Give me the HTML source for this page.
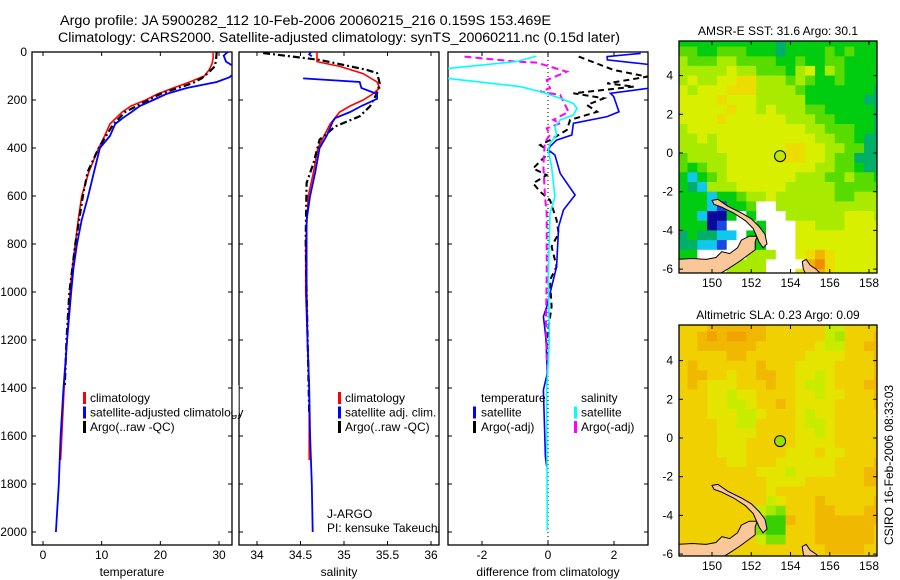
<!DOCTYPE html>
<html><head><meta charset="utf-8">
<style>
html,body{margin:0;padding:0;background:#fff;}
svg{display:block;font-family:"Liberation Sans",sans-serif;}
</style></head>
<body>
<svg id="fig" width="900" height="580" viewBox="0 0 900 580" xmlns="http://www.w3.org/2000/svg">
<defs>
<clipPath id="c1"><rect x="32" y="52" width="200" height="493"/></clipPath>
<clipPath id="c2"><rect x="239" y="52" width="200" height="493"/></clipPath>
<clipPath id="c3"><rect x="448" y="52" width="200" height="493"/></clipPath>
<clipPath id="cm1"><rect x="679" y="41" width="198" height="232"/></clipPath>
<clipPath id="cm2"><rect x="679" y="325" width="198" height="231"/></clipPath>
</defs>
<text x="60" y="25" font-size="13.5" textLength="491" lengthAdjust="spacingAndGlyphs">Argo profile: JA 5900282_112 10-Feb-2006 20060215_216 0.159S 153.469E</text>
<text x="58" y="42" font-size="13.5" textLength="562" lengthAdjust="spacingAndGlyphs">Climatology: CARS2000. Satellite-adjusted climatology: synTS_20060211.nc (0.15d later)</text>
<g id="root"></g>
</svg>
<script>
// ---------- profile data (depth m, value) ----------
const tempClimDepth=[0,25,50,75,100,125,150,175,200,225,250,300,350,400,500,600,700,800,900,1000,1200,1400,1600,1700];
const tempClimVal=[29.0,29.0,28.8,28.3,27.5,25,22.2,19.5,17.5,15,13.5,11.4,10.5,9.5,7.8,6.6,6.0,5.5,5.0,4.6,4.1,3.6,3.2,3.0];
const tempSatDepth=[0,15,40,60,90,105,125,150,175,200,225,250,275,300,350,400,500,600,700,800,900,1000,1200,1400,1600,1800,2000];
const tempSatVal=[31.5,30.8,31.2,32.5,32.5,31.8,29.6,24.5,21,18.8,16.5,15.1,13.6,12.3,11.4,9.7,8.7,7.7,6.6,5.8,5.2,4.8,4.1,3.5,3.0,2.7,2.2];
const tempArgoDepth=[0,30,60,90,110,130,150,175,200,250,300,400,500,600,800,1000,1200,1400];
const tempArgoVal=[29.6,29.5,29.3,28,27,25.5,23,20,18,14,12,9.5,7.6,6.8,5.5,4.5,4.0,3.7];

const salClimDepth=[0,40,60,90,125,150,175,200,225,250,300,400,500,600,800,1000,1400,1700];
const salClimVal=[34.69,34.69,34.95,35.22,35.38,35.41,35.33,35.22,35.07,34.95,34.84,34.70,34.65,34.59,34.56,34.56,34.60,34.60];
const salSatTopDepth=[0,10,18];
const salSatTopVal=[34.62,34.60,34.63];
const salSatDepth=[110,125,150,175,195,225,250,275,290,350,400,500,600,700,800,1000,1200,1400,1600,1800,2000];
const salSatVal=[34.53,35.18,35.20,35.38,35.38,35.20,35.07,34.90,34.87,34.80,34.72,34.67,34.61,34.57,34.57,34.57,34.58,34.60,34.61,34.63,34.64];
const salArgoDepth=[4,33,74,88,130,171,226,268,310,365,463,546,780,1000,1500];
const salArgoVal=[34.07,34.72,35.26,35.38,35.41,35.38,35.30,35.18,34.90,34.72,34.65,34.57,34.56,34.57,34.60];

const dTSatDepth=[6,19,33,54,89,131,151,172,186,249,269,297,346,367,394,408,429,506,596,658,728,894,950,1006,1061,1103,1158,1200,1339,1408,1686,1728];
const dTSatVal=[2.81,1.79,1.8,3.2,3.6,3.5,3.06,1.89,1.99,2.15,1.79,0.77,0.72,0.26,0.06,0.01,0.21,0.37,0.82,0.47,0.32,0.26,0.16,0.06,-0.04,-0.14,-0.09,-0.06,-0.02,-0.14,-0.08,-0.04];
const dTArgoDepth=[19,75,103,131,144,172,193,221,249,283,325,367,388,415,485,513,547,582,617,700,756,811,894,950,1061,1200,1339];
const dTArgoVal=[0.93,1.99,3.01,1.79,2.61,0.77,1.69,1.18,1.49,0.67,0.57,0.06,-0.24,0.06,-0.45,-0.04,-0.45,-0.24,0.06,0.26,0.32,0.11,0.26,0.06,0.11,-0.04,-0.02];
const dSSatDepth=[17,40,75,110,144,165,193,214,235,263,283,311,346,381,408,478,603,672,922,1200,1408,1992];
const dSSatVal=[-0.35,-0.96,-3.5,-3.04,-0.85,-0.24,0.37,0.77,0.88,0.77,0.37,0.21,0.26,0.06,0.01,0.11,0.21,0.06,0.01,0.04,-0.04,-0.02];
const dSArgoDepth=[19,40,44,82,117,151,165,179,207,249,283,297,318,346,374,422,478,603,672,922,1131,1270,1339];
const dSArgoVal=[-2.53,-0.96,-0.35,0.57,-0.04,0.06,-0.24,0.37,0.47,0.62,0.16,0.37,-0.04,0.06,-0.09,-0.12,-0.14,-0.09,-0.04,-0.04,-0.06,-0.04,-0.02];

const depthTicks=[0,200,400,600,800,1000,1200,1400,1600,1800,2000];
const tempTicks=[0,10,20,30];
const salTicks=[34,34.5,35,35.5,36];
const salTickLabels=['34','34.5','35','35.5','36'];
const diffTicks=[-2,0,2];

// ---------- map data ----------
const lonTicks=[150,152,154,156,158];
const latTicks=[4,2,0,-2,-4,-6];
const gridLon0=148.25, gridLat0=6.0, gridStep=0.5;
const sstRows=[
"444444444434444444444","554455544434444545444","655566555544544554444","666667665554674654444",
"676677886665654454444","767778886666544444443","777787776666644444433","777778776766655444443",
"777787777776665544443","677777777777766555443","667677777777776655433","666677777778877665533",
"566667777788877655333","545667777777776655433","424567777777666556554","432666777776666655555",
"444244566766666655666","44421445WW66666666666","442004W4WWW6666667776","44401WWW4WWW776667777",
"343322W44WWW777777777","33221WW44WWW777777777","44WWWWW666WW789877777","WWWWW6666WWWW9a877777",
"WWWWW6666WWW7a9877777"];
const slaRows=[
"888999999888888668888","889a9aa99888888658889","889999998888887668899","888889988888877778889",
"898888889888777788889","899887889988776788889","898777888988766788899","888776778888776778889",
"888776678898777788889","888777667888767788888","888877668888766788888","888877778888776788888",
"888877788888777788888","888877788887778778888","888887788877777788889","888888887776777788899",
"888888888777788888899","888888888788888888888","888888888678889888889","888888886548889988899",
"888888884339889999999","888888884338889999998","888888886448889999998","588888888888888999988",
"558888888888888888888"];
const sstPalette={'0':'#0a0a98','1':'#1848e0','2':'#10c8ec','3':'#00b068','4':'#00cc10','5':'#58dc00','6':'#a8ea00','7':'#d8f000','8':'#ecdc00','9':'#f0b400','a':'#f08c00','W':'#ffffff'};
const slaPalette={'3':'#38d000','4':'#80e000','5':'#a8e800','6':'#c8ec00','7':'#e4e400','8':'#f0d000','9':'#f0b800','a':'#f0a400'};
const landNewBritain=[[148.2,-5.5],[149,-5.45],[149.7,-5.5],[150.2,-5.4],[150.5,-5.1],[150.9,-5.2],[151.3,-4.9],[151.5,-4.5],[151.9,-4.3],[152.3,-4.3],[152.2,-4.6],[152.2,-5.0],[151.8,-5.3],[151.4,-5.6],[150.8,-6.0],[150.3,-6.3],[148.2,-6.3]];
const landNewIreland=[[150.0,-2.45],[150.3,-2.4],[150.8,-2.75],[151.5,-3.1],[152,-3.4],[152.4,-3.8],[152.7,-4.2],[152.8,-4.7],[152.6,-4.9],[152.4,-4.6],[152.1,-3.9],[151.7,-3.5],[151.1,-3.1],[150.5,-2.8],[150.1,-2.65]];
const landBougainville=[[154.6,-5.6],[154.8,-5.5],[155.0,-5.8],[155.3,-6.0],[155.6,-6.3],[154.8,-6.3],[154.65,-6.0]];
const floatLon=153.469, floatLat=-0.159;

// ---------- helpers ----------
const NS='http://www.w3.org/2000/svg';
const root=document.getElementById('root');
function mk(tag,attrs,parent){const e=document.createElementNS(NS,tag);for(const k in attrs)e.setAttribute(k,attrs[k]);(parent||root).appendChild(e);return e;}
const yD=d=>52+d*0.24;
function lin(v0,p0,v1,p1){return v=>p0+(v-v0)*(p1-p0)/(v1-v0);}
const xT=lin(0,43,30,219), xS=lin(34,257,36,431), xD=lin(0,548,2,614);

function drawPanel(x0,name,xs,xticks,xlabels,xlabel,showY){
  const g=mk('g',{});
  
  
  const fr=mk('rect',{x:x0,y:52,width:200,height:493,fill:'none',stroke:'#000','stroke-width':1.3},g);
  
  
  depthTicks.forEach(d=>{
    mk('line',{x1:x0,x2:x0+4,y1:yD(d),y2:yD(d),stroke:'#000'},g);
    mk('line',{x1:x0+200,x2:x0+196,y1:yD(d),y2:yD(d),stroke:'#000'},g);
    if(showY){const t=mk('text',{x:x0-5,y:yD(d)+4,'font-size':12,'text-anchor':'end'},g);t.textContent=d;
      
      }
  });
  xticks.forEach((v,i)=>{
    const x=xs(v);
    mk('line',{x1:x,x2:x,y1:545,y2:541,stroke:'#000'},g);
    mk('line',{x1:x,x2:x,y1:52,y2:56,stroke:'#000'},g);
    const t=mk('text',{x:x,y:559,'font-size':12,'text-anchor':'middle'},g);t.textContent=xlabels[i];
    
    
  });
  const t=mk('text',{x:x0+100,y:576,'font-size':12,'text-anchor':'middle'},g);t.textContent=xlabel;
  
  
}
function line(depths,vals,xs,color,clip,dash,w,nm){
  const pts=depths.map((d,i)=>xs(vals[i]).toFixed(1)+','+yD(d).toFixed(1)).join(' ');
  const p=mk('polyline',{points:pts,fill:'none',stroke:color,'stroke-width':w||1.6,'clip-path':'url(#'+clip+')'});
  if(dash)p.setAttribute('stroke-dasharray',dash);
  
  
}
function legend(x,y,items,bx){
  items.forEach((it,i)=>{
    if(it.c){const r=mk('rect',{x:bx,y:y+i*14.5-10,width:3,height:12,fill:it.c});
      
      }
    const t=mk('text',{x:x,y:y+i*14.5,'font-size':12});t.textContent=it.t;
    
    
  });
}

drawPanel(32,'temperature',xT,tempTicks,tempTicks.map(String),'temperature',true);
drawPanel(239,'salinity',xS,salTicks,salTickLabels,'salinity',false);
drawPanel(448,'difference',xD,diffTicks,diffTicks.map(String),'difference from climatology',false);

const zl=mk('line',{x1:548,x2:548,y1:52,y2:545,stroke:'#000','stroke-dasharray':'1,3'});



line(tempClimDepth,tempClimVal,xT,'#ff0000','c1',null,1.6,'temp-climatology-line');
line(tempArgoDepth,tempArgoVal,xT,'#000','c1','7,3,2,3',2.2,'temp-argo-line');
line(tempSatDepth,tempSatVal,xT,'#0000ff','c1',null,1.8,'temp-satellite-line');

line(salClimDepth,salClimVal,xS,'#ff0000','c2',null,1.6,'sal-climatology-line');
line(salArgoDepth,salArgoVal,xS,'#000','c2','7,3,2,3',2.2,'sal-argo-line');
line(salSatTopDepth,salSatTopVal,xS,'#0000ff','c2',null,1.8,'sal-satellite-top-line');
line(salSatDepth,salSatVal,xS,'#0000ff','c2',null,1.8,'sal-satellite-line');

line(dTArgoDepth,dTArgoVal,xD,'#000','c3','6,4',2,'diff-temp-argo-line');
line(dTSatDepth,dTSatVal,xD,'#0000ff','c3',null,1.6,'diff-temp-satellite-line');
line(dSArgoDepth,dSArgoVal,xD,'#ff00ff','c3','7,4',2,'diff-sal-argo-line');
line(dSSatDepth,dSSatVal,xD,'#00ffff','c3',null,1.6,'diff-sal-satellite-line');

legend(90,402,[{t:'climatology',c:'#ff0000'},{t:'satellite-adjusted climatology',c:'#0000ff'},{t:'Argo(..raw -QC)',c:'#000'}],83);
legend(345,402,[{t:'climatology',c:'#ff0000'},{t:'satellite adj. clim.',c:'#0000ff'},{t:'Argo(..raw -QC)',c:'#000'}],338);
legend(481,402,[{t:'temperature'},{t:'satellite',c:'#0000ff'},{t:'Argo(-adj)',c:'#000'}],473);
legend(581,402,[{t:'salinity'},{t:'satellite',c:'#00ffff'},{t:'Argo(-adj)',c:'#ff00ff'}],574);
const cv=mk('rect',{x:232.7,y:385,width:6,height:30,fill:'#fff'});
const t1=mk('text',{x:327,y:518,'font-size':12});t1.textContent='J-ARGO';


const t2=mk('text',{x:327,y:532,'font-size':12});t2.textContent='PI: kensuke Takeuchi';



// ---------- maps ----------
function drawMap(top,bottom,rows,palette,clip,title,name,dotFill){
  const xL=lin(150,712,158,869);
  const lat0y = top===41?153:438;
  const yL=v=>lat0y-v*19.35;
  const g=mk('g',{});
  
  
  const cg=mk('g',{'clip-path':'url(#'+clip+')'},g);
  rows.forEach((r,ri)=>{
    for(let ci=0;ci<r.length;ci++){
      const lon=gridLon0+ci*gridStep, lat=gridLat0-ri*gridStep;
      const x=xL(lon), y=yL(lat);
      const c=mk('rect',{x:x.toFixed(1),y:y.toFixed(1),width:(xL(lon+gridStep)-x+0.6).toFixed(1),height:(yL(lat-gridStep)-y+0.6).toFixed(1),fill:palette[r[ci]]||'#fff'},cg);
      
      
    }
  });
  [landNewBritain,landNewIreland,landBougainville].forEach(poly=>{
    const p=mk('polygon',{points:poly.map(q=>xL(q[0]).toFixed(1)+','+yL(q[1]).toFixed(1)).join(' '),fill:'#fac898',stroke:'#000','stroke-width':1},cg);
    
    
  });
  const dot=mk('circle',{cx:xL(floatLon),cy:yL(floatLat),r:5.5,fill:dotFill,stroke:'#000','stroke-width':1},g);
  
  
  const fr=mk('rect',{x:679,y:top,width:198,height:bottom-top,fill:'none',stroke:'#000','stroke-width':1.3},g);
  
  
  lonTicks.forEach(v=>{
    mk('line',{x1:xL(v),x2:xL(v),y1:bottom,y2:bottom-4,stroke:'#000'},g);
    mk('line',{x1:xL(v),x2:xL(v),y1:top,y2:top+4,stroke:'#000'},g);
    const t=mk('text',{x:xL(v),y:bottom+14,'font-size':12,'text-anchor':'middle'},g);t.textContent=v;
    
    
  });
  latTicks.forEach(v=>{
    mk('line',{x1:679,x2:683,y1:yL(v),y2:yL(v),stroke:'#000'},g);
    mk('line',{x1:877,x2:873,y1:yL(v),y2:yL(v),stroke:'#000'},g);
    const t=mk('text',{x:673,y:yL(v)+4,'font-size':12,'text-anchor':'end'},g);t.textContent=v;
    
    
  });
  const tt=mk('text',{x:778,y:top-6,'font-size':12,'text-anchor':'middle'},g);tt.textContent=title;
  
  
}
drawMap(41,273,sstRows,sstPalette,'cm1','AMSR-E SST: 31.6 Argo: 30.1','sst-map','#c0e800');
drawMap(325,556,slaRows,slaPalette,'cm2','Altimetric SLA: 0.23 Argo: 0.09','sla-map','#98e000');

const cs=mk('text',{x:0,y:0,'font-size':12,'text-anchor':'middle',transform:'translate(893,465) rotate(-90)'});
cs.textContent='CSIRO 16-Feb-2006 08:33:03';


</script>
</body></html>
